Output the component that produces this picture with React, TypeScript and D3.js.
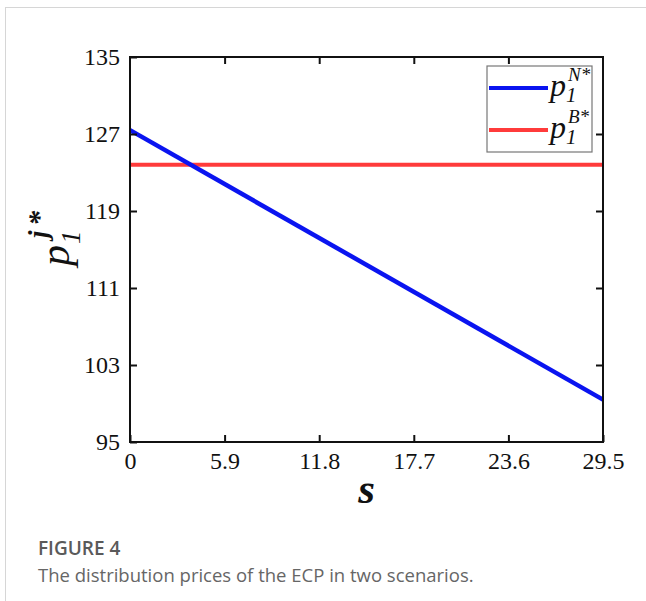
import React, { useEffect, useRef } from 'react';
import * as d3 from 'd3';

// chart data
const xTicks = [0, 5.9, 11.8, 17.7, 23.6, 29.5];
const yTicks = [95, 103, 111, 119, 127, 135];
const sValues = [0, 29.5];
const pN = [127.4, 99.4];
const pB = [123.8, 123.8];

const seriesNames = ['N', 'B'];
const seriesColors = ['#0a14f0', '#ff3b3b'];

const W = 646;
const H = 601;

export default function App() {
  const svgRef = useRef<SVGSVGElement>(null);

  useEffect(() => {
    document.body.style.margin = '0';
    if (!svgRef.current) return;
    const svg = d3.select(svgRef.current);
    svg.selectAll('*').remove();

    const serif = '"Liberation Serif", "Times New Roman", serif';
    const plot = { left: 130, right: 603, top: 57, bottom: 442 };

    // card frame
    svg
      .append('rect')
      .attr('x', 5.5)
      .attr('y', 7.5)
      .attr('width', 800)
      .attr('height', 800)
      .attr('fill', '#fff')
      .attr('stroke', '#d6d6d6')
      .attr('stroke-width', 1);

    const x = d3.scaleLinear().domain([0, 29.5]).range([plot.left, plot.right]);
    const y = d3.scaleLinear().domain([95, 135]).range([plot.bottom, plot.top]);

    const g = svg.append('g');

    // series lines
    const line = d3
      .line<number>()
      .x((_, i) => x(sValues[i]))
      .y(d => y(d));

    g.append('path')
      .datum(pB)
      .attr('fill', 'none')
      .attr('stroke', seriesColors[1])
      .attr('stroke-width', 4)
      .attr('d', line);

    g.append('path')
      .datum(pN)
      .attr('fill', 'none')
      .attr('stroke', seriesColors[0])
      .attr('stroke-width', 4.5)
      .attr('d', line);

    // frame + ticks (mirrored, inward)
    g.append('rect')
      .attr('x', plot.left)
      .attr('y', plot.top)
      .attr('width', plot.right - plot.left)
      .attr('height', plot.bottom - plot.top)
      .attr('fill', 'none')
      .attr('stroke', '#111')
      .attr('stroke-width', 2);

    const tickLen = 7;
    const axisStyle = (sel: d3.Selection<SVGGElement, unknown, null, undefined>) => {
      sel.select('.domain').remove();
      sel.selectAll('.tick line').attr('stroke', '#111').attr('stroke-width', 2);
    };

    g.append('g')
      .attr('transform', `translate(0,${plot.bottom})`)
      .call(d3.axisBottom(x).tickValues(xTicks).tickSize(-tickLen).tickPadding(10).tickFormat(d => String(d)))
      .call(axisStyle)
      .selectAll('text')
      .attr('fill', '#111')
      .attr('font-size', '24px')
      .attr('font-family', serif);

    g.append('g')
      .attr('transform', `translate(0,${plot.top})`)
      .call(d3.axisTop(x).tickValues(xTicks.slice(1, -1)).tickSize(-tickLen).tickFormat(() => ''))
      .call(axisStyle);

    g.append('g')
      .attr('transform', `translate(${plot.left},0)`)
      .call(d3.axisLeft(y).tickValues(yTicks).tickSize(-tickLen).tickPadding(10).tickFormat(d => String(d)))
      .call(axisStyle)
      .selectAll('text')
      .attr('fill', '#111')
      .attr('font-size', '24px')
      .attr('font-family', serif);

    g.append('g')
      .attr('transform', `translate(${plot.right},0)`)
      .call(d3.axisRight(y).tickValues(yTicks.slice(1, -1)).tickSize(-tickLen).tickFormat(() => ''))
      .call(axisStyle);

    // legend
    const leg = g.append('g');
    leg
      .append('rect')
      .attr('x', 487)
      .attr('y', 66)
      .attr('width', 105)
      .attr('height', 86)
      .attr('fill', '#fff')
      .attr('stroke', '#777')
      .attr('stroke-width', 1.2);

    seriesNames.forEach((name, i) => {
      const ly = 88 + i * 42;
      leg
        .append('line')
        .attr('x1', 489)
        .attr('x2', 548)
        .attr('y1', ly)
        .attr('y2', ly)
        .attr('stroke', seriesColors[i])
        .attr('stroke-width', 4);
      const txt = (s: string, tx: number, ty: number, size: number) =>
        leg
          .append('text')
          .attr('x', tx)
          .attr('y', ty)
          .attr('font-family', serif)
          .attr('font-style', 'italic')
          .attr('font-size', `${size}px`)
          .attr('fill', '#111')
          .text(s);
      txt('p', 550, ly + 8, 32);
      txt('1', 566, ly + 14, 21);
      txt(`${name}*`, 568, ly - 7, 19);
    });

    // y label (rotated)
    const yl = svg.append('g').attr('transform', 'translate(69,266) rotate(-90)');
    const ytxt = (s: string, u: number, v: number, size: number, bold = false) =>
      yl
        .append('text')
        .attr('x', u)
        .attr('y', v)
        .attr('font-family', serif)
        .attr('font-style', 'italic')
        .attr('font-weight', bold ? 'bold' : 'normal')
        .attr('font-size', `${size}px`)
        .attr('fill', '#111')
        .text(s);
    ytxt('p', 0, 0, 42);
    ytxt('1', 22, 11, 27);
    ytxt('j', 28, -22, 27, true);
    ytxt('*', 40, -20, 30, true);

    // x label
    svg
      .append('text')
      .attr('x', (plot.left + plot.right) / 2)
      .attr('y', 503)
      .attr('text-anchor', 'middle')
      .attr('font-family', serif)
      .attr('font-style', 'italic')
      .attr('font-weight', 'bold')
      .attr('font-size', '43px')
      .attr('fill', '#111')
      .text('s');

    // caption
    svg
      .append('text')
      .attr('x', 38)
      .attr('y', 555)
      .attr('font-family', '"Open Sans", sans-serif')
      .attr('font-size', '19px')
      .attr('font-weight', 600)
      .attr('fill', '#5a5a5a')
      .text('FIGURE 4');
    svg
      .append('text')
      .attr('x', 38)
      .attr('y', 582)
      .attr('font-family', '"Open Sans", sans-serif')
      .attr('font-size', '18.5px')
      .attr('fill', '#666')
      .text('The distribution prices of the ECP in two scenarios.');
  }, []);

  return <svg ref={svgRef} width={W} height={H} style={{ display: 'block' }}></svg>;
}
